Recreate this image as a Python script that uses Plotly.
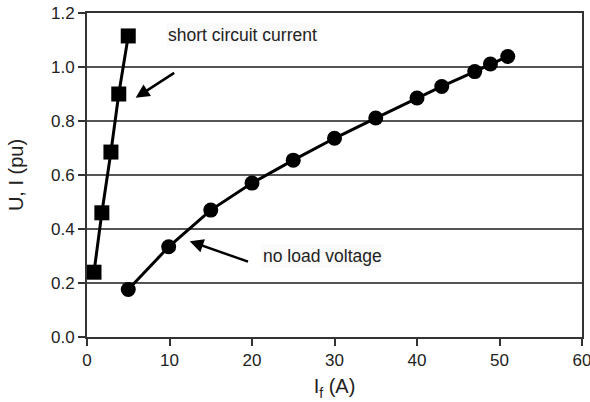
import plotly.graph_objects as go

sc_if = [0.85, 1.8, 2.9, 3.85, 5.0]
sc_val = [0.24, 0.46, 0.685, 0.9, 1.115]

nl_if = [5.0, 9.9, 15.0, 20.0, 25.0, 30.0, 35.0, 40.0, 43.0, 47.0, 48.9, 51.0]
nl_val = [0.176, 0.334, 0.47, 0.57, 0.655, 0.736, 0.811, 0.885, 0.928, 0.983, 1.011, 1.039]

x_ticks = [0, 10, 20, 30, 40, 50, 60]
y_ticks = [0.0, 0.2, 0.4, 0.6, 0.8, 1.0, 1.2]

font = "Liberation Sans, Arial, sans-serif"

fig = go.Figure()
fig.add_trace(go.Scatter(x=sc_if, y=sc_val, mode="lines+markers",
                         line=dict(color="black", width=3),
                         marker=dict(symbol="square", size=15, color="black"),
                         showlegend=False))
fig.add_trace(go.Scatter(x=nl_if, y=nl_val, mode="lines+markers",
                         line=dict(color="black", width=3),
                         marker=dict(symbol="circle", size=15, color="black"),
                         showlegend=False))

fig.add_annotation(x=12.45, y=0.355, ax=19.7, ay=0.277, axref="x", ayref="y",
                   xref="x", yref="y", text="", showarrow=True, arrowhead=2,
                   arrowsize=1.1, arrowwidth=2.5, arrowcolor="black")
fig.add_annotation(x=5.9, y=0.886, ax=10.75, ay=0.982, axref="x", ayref="y",
                   xref="x", yref="y", text="", showarrow=True, arrowhead=2,
                   arrowsize=1.1, arrowwidth=2.5, arrowcolor="black")

fig.add_annotation(x=9.6, y=1.12, xref="x", yref="y", text="short circuit current",
                   showarrow=False, xanchor="left", font=dict(size=17.5, color="#222"),
                   bgcolor="#fafafa")
fig.add_annotation(x=21.1, y=0.3, xref="x", yref="y", text="no load voltage",
                   showarrow=False, xanchor="left", font=dict(size=17.5, color="#222"),
                   bgcolor="#fafafa")

fig.update_layout(
    width=590, height=402,
    margin=dict(l=87, r=8, t=13, b=65, autoexpand=False),
    paper_bgcolor="white", plot_bgcolor="white",
    font=dict(family=font, size=17, color="#222"),
    xaxis=dict(range=[0, 60], tickvals=x_ticks, ticks="outside", ticklen=7,
               tickcolor="#333", tickwidth=1.5, showline=True, linecolor="#333",
               linewidth=2, mirror=True, showgrid=False, zeroline=False,
               ticklabeloverflow="allow",
               title=dict(text="I<sub>f</sub> (A)", standoff=10)),
    yaxis=dict(range=[0, 1.2], tickvals=y_ticks, tickformat=".1f", ticks="outside",
               ticklen=7, tickcolor="#333", tickwidth=1.5, showline=True,
               linecolor="#333", linewidth=2, mirror=True, showgrid=True,
               gridcolor="#555", gridwidth=1.5, zeroline=False,
               ticklabeloverflow="allow",
               title=dict(text="U, I (pu)", standoff=22)),
)

fig.write_html("out.html")
